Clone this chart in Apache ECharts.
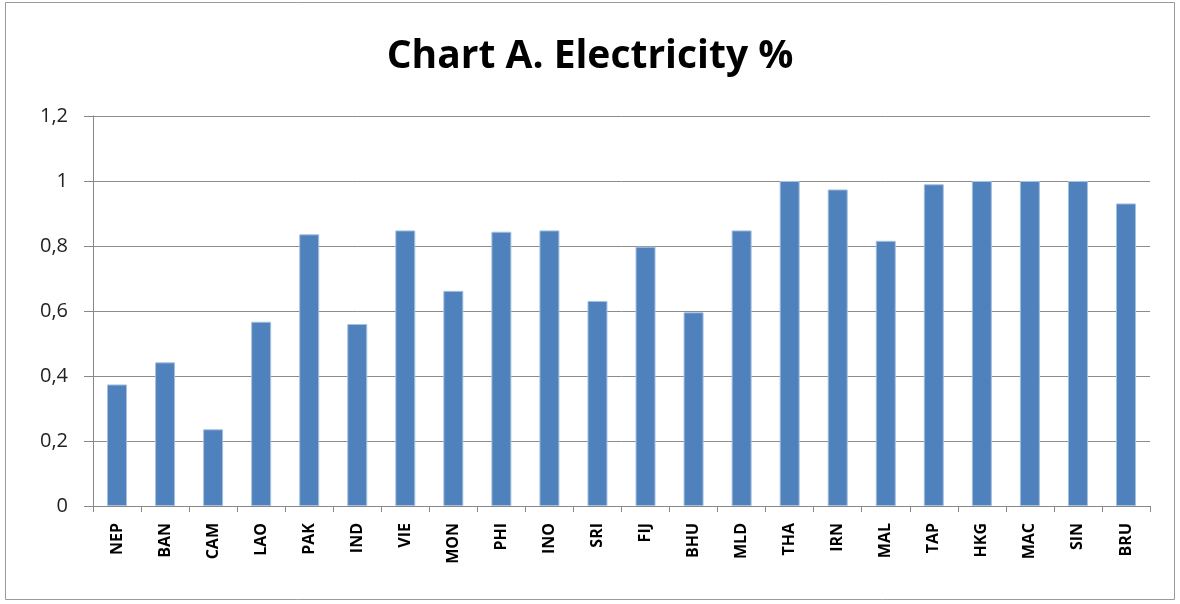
<!DOCTYPE html>
<html>
<head>
<meta charset="utf-8">
<script src="https://cdn.jsdelivr.net/npm/echarts@6/dist/echarts.min.js"></script>
<style>
  html, body { margin: 0; padding: 0; background: #fff; }
  #chart { width: 1180px; height: 604px; }
</style>
</head>
<body>
<div id="chart"></div>
<script>
// 国家/地区代码
var countries = ["NEP", "BAN", "CAM", "LAO", "PAK", "IND", "VIE", "MON", "PHI", "INO", "SRI",
  "FIJ", "BHU", "MLD", "THA", "IRN", "MAL", "TAP", "HKG", "MAC", "SIN", "BRU"];
// 通电比例
var electricity = [0.374, 0.442, 0.236, 0.567, 0.836, 0.56, 0.848, 0.662, 0.844, 0.848, 0.631,
  0.798, 0.596, 0.848, 1.0, 0.974, 0.816, 0.99, 1.0, 1.0, 1.0, 0.931];
var yTicks = [0, 0.2, 0.4, 0.6, 0.8, 1, 1.2];

var myChart = echarts.init(document.getElementById("chart"));
var option = {
  animation: false,
  title: {
    text: "Chart A. Electricity %",
    left: "center",
    top: 32,
    textStyle: {
      fontFamily: "Open Sans",
      fontWeight: "bold",
      fontSize: 39,
      color: "#000"
    }
  },
  graphic: [
    {
      type: "rect",
      shape: { x: 5.5, y: 2.5, width: 1169, height: 597 },
      style: { fill: "none", stroke: "#9a9a9a", lineWidth: 1 }
    }
  ],
  grid: {
    left: 93,
    right: 30,
    top: 116,
    bottom: 98
  },
  xAxis: {
    type: "category",
    data: countries,
    axisLine: { lineStyle: { color: "#888", width: 1 } },
    axisTick: { show: true, length: 6, lineStyle: { color: "#888" } },
    axisLabel: {
      rotate: 90,
      interval: 0,
      margin: 17,
      color: "#000",
      fontFamily: "Open Sans",
      fontWeight: "bold",
      fontSize: 16
    }
  },
  yAxis: {
    type: "value",
    min: yTicks[0],
    max: yTicks[yTicks.length - 1],
    interval: 0.2,
    axisLine: { show: true, lineStyle: { color: "#888", width: 1 } },
    axisTick: { show: true, length: 9, lineStyle: { color: "#888" } },
    splitLine: { lineStyle: { color: "#8c8c8c", width: 1 } },
    axisLabel: {
      margin: 25,
      color: "#222",
      fontFamily: "Open Sans",
      fontSize: 20,
      formatter: function (v) {
        return String(Math.round(v * 10) / 10).replace(".", ",");
      }
    }
  },
  series: [
    {
      type: "bar",
      data: electricity,
      barWidth: 20,
      itemStyle: {
        color: "#4f81bd",
        borderColor: "#a7c0de",
        borderWidth: 1
      }
    }
  ]
};
myChart.setOption(option);
</script>
</body>
</html>
